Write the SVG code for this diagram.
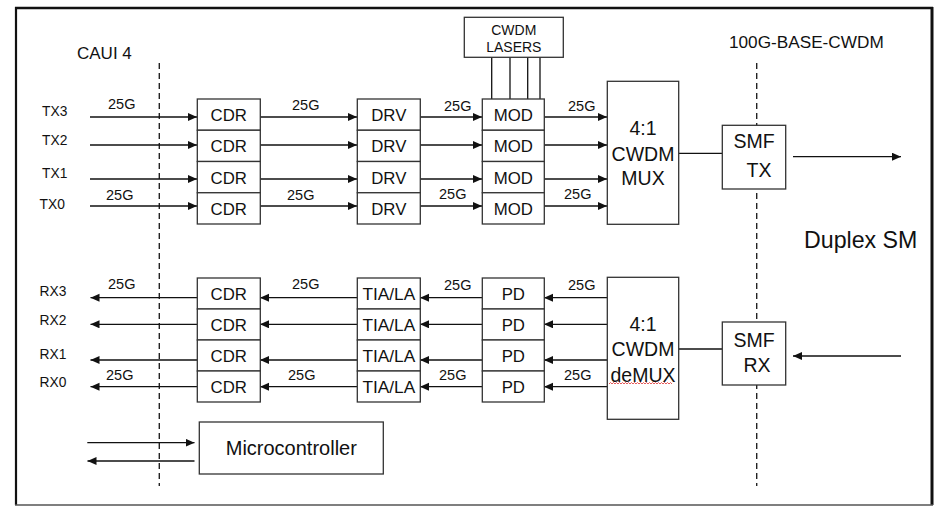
<svg xmlns="http://www.w3.org/2000/svg" width="936" height="506" viewBox="0 0 936 506">
<style>
text{font-family:"Liberation Sans",Arial,sans-serif;fill:#111}
.box{fill:#fff;stroke:#333;stroke-width:1.3}
.ln{stroke:#111;stroke-width:1.3;fill:none}
.arr{stroke:#111;stroke-width:1.3;fill:none;marker-end:url(#ah)}
.dash{stroke:#222;stroke-width:1.4;stroke-dasharray:6,4;fill:none}
.lbl{font-size:13.8px}
.g{font-size:14.5px}
.bx{font-size:16.8px;text-anchor:middle}
.big{font-size:19.5px;text-anchor:middle}
</style>
<defs>
<marker id="ah" markerUnits="userSpaceOnUse" markerWidth="10" markerHeight="9" refX="9" refY="4" orient="auto">
<path d="M0,0 L9,4 L0,8 z" fill="#111"/>
</marker>
</defs>
<rect x="0" y="0" width="936" height="506" fill="#fff"/>
<g id="frame">
<line x1="15" y1="8" x2="933" y2="8" stroke="#111" stroke-width="2.5"/>
<line x1="16" y1="7" x2="16" y2="505" stroke="#111" stroke-width="2.2"/>
<line x1="932" y1="7" x2="932" y2="505" stroke="#111" stroke-width="3"/>
<line x1="15" y1="505" x2="933" y2="505" stroke="#555" stroke-width="1.5"/>
</g>
<g id="boundaries">
<line class="dash" x1="159.3" y1="63" x2="159.3" y2="486"/>
<line class="dash" x1="756.7" y1="63" x2="756.7" y2="486"/>
<text x="77" y="59" style="font-size:17px">CAUI 4</text>
<text x="729" y="47.7" style="font-size:17.2px">100G-BASE-CWDM</text>
<text x="804" y="248" style="font-size:23.2px">Duplex SM</text>
</g>
<g id="connectors">
<line class="arr" x1="90" y1="117" x2="197" y2="117"/>
<line class="arr" x1="90" y1="145" x2="197" y2="145"/>
<line class="arr" x1="90" y1="179" x2="197" y2="179"/>
<line class="arr" x1="90" y1="206" x2="197" y2="206"/>
<line class="arr" x1="260" y1="117" x2="357" y2="117"/>
<line class="arr" x1="260" y1="145" x2="357" y2="145"/>
<line class="arr" x1="260" y1="179" x2="357" y2="179"/>
<line class="arr" x1="260" y1="206" x2="357" y2="206"/>
<line class="arr" x1="420" y1="117" x2="482" y2="117"/>
<line class="arr" x1="420" y1="145" x2="482" y2="145"/>
<line class="arr" x1="420" y1="179" x2="482" y2="179"/>
<line class="arr" x1="420" y1="206" x2="482" y2="206"/>
<line class="arr" x1="544" y1="117" x2="607" y2="117"/>
<line class="arr" x1="544" y1="145" x2="607" y2="145"/>
<line class="arr" x1="544" y1="179" x2="607" y2="179"/>
<line class="arr" x1="544" y1="206" x2="607" y2="206"/>
<line class="ln" x1="491.7" y1="57" x2="491.7" y2="99"/>
<line class="ln" x1="510" y1="57" x2="510" y2="99"/>
<line class="ln" x1="527.7" y1="57" x2="527.7" y2="99"/>
<line class="ln" x1="540" y1="57" x2="540" y2="99"/>
<line class="ln" x1="679" y1="153.3" x2="722" y2="153.3"/>
<line class="arr" x1="793" y1="156.7" x2="901" y2="156.7"/>
<line class="arr" x1="901" y1="356" x2="793" y2="356"/>
<line class="ln" x1="679" y1="349" x2="722" y2="349"/>
<line class="arr" x1="607" y1="297.7" x2="544" y2="297.7"/>
<line class="arr" x1="607" y1="324.3" x2="544" y2="324.3"/>
<line class="arr" x1="607" y1="360" x2="544" y2="360"/>
<line class="arr" x1="607" y1="386.7" x2="544" y2="386.7"/>
<line class="arr" x1="482" y1="297.7" x2="420" y2="297.7"/>
<line class="arr" x1="482" y1="324.3" x2="420" y2="324.3"/>
<line class="arr" x1="482" y1="360" x2="420" y2="360"/>
<line class="arr" x1="482" y1="386.7" x2="420" y2="386.7"/>
<line class="arr" x1="357" y1="297.7" x2="260" y2="297.7"/>
<line class="arr" x1="357" y1="324.3" x2="260" y2="324.3"/>
<line class="arr" x1="357" y1="360" x2="260" y2="360"/>
<line class="arr" x1="357" y1="386.7" x2="260" y2="386.7"/>
<line class="arr" x1="197" y1="297.7" x2="90.5" y2="297.7"/>
<line class="arr" x1="197" y1="324.3" x2="90.5" y2="324.3"/>
<line class="arr" x1="197" y1="360" x2="90.5" y2="360"/>
<line class="arr" x1="197" y1="386.7" x2="90.5" y2="386.7"/>
<line class="arr" x1="87.3" y1="442.7" x2="194.5" y2="442.7"/>
<line class="arr" x1="194.5" y1="461" x2="87.5" y2="461"/>
<text class="g" x="108" y="108.5">25G</text>
<text class="g" x="106" y="200">25G</text>
<text class="g" x="292" y="109.5">25G</text>
<text class="g" x="287" y="200">25G</text>
<text class="g" x="444" y="110.5">25G</text>
<text class="g" x="439" y="199">25G</text>
<text class="g" x="568" y="110.5">25G</text>
<text class="g" x="564" y="199">25G</text>
<text class="g" x="108" y="288.5">25G</text>
<text class="g" x="106" y="380">25G</text>
<text class="g" x="292" y="289">25G</text>
<text class="g" x="288" y="380">25G</text>
<text class="g" x="444" y="290">25G</text>
<text class="g" x="439" y="380">25G</text>
<text class="g" x="568" y="290">25G</text>
<text class="g" x="564" y="380">25G</text>
</g>
<g id="port-labels">
<text class="lbl" x="42" y="116">TX3</text>
<text class="lbl" x="42" y="145">TX2</text>
<text class="lbl" x="42" y="178">TX1</text>
<text class="lbl" x="39.5" y="209">TX0</text>
<text class="lbl" x="39.5" y="296">RX3</text>
<text class="lbl" x="39.5" y="325">RX2</text>
<text class="lbl" x="39.5" y="359">RX1</text>
<text class="lbl" x="39.5" y="386.7">RX0</text>
</g>
<g id="tx-cdr">
<rect class="box" x="197.3" y="99" width="63" height="31.25"/>
<rect class="box" x="197.3" y="130.25" width="63" height="31.25"/>
<rect class="box" x="197.3" y="161.5" width="63" height="31.25"/>
<rect class="box" x="197.3" y="192.75" width="63" height="31.25"/>
<text class="bx" x="228.8" y="121">CDR</text>
<text class="bx" x="228.8" y="152.3">CDR</text>
<text class="bx" x="228.8" y="183.5">CDR</text>
<text class="bx" x="228.8" y="214.8">CDR</text>
</g>
<g id="tx-drv">
<rect class="box" x="357.3" y="99" width="63" height="31.25"/>
<rect class="box" x="357.3" y="130.25" width="63" height="31.25"/>
<rect class="box" x="357.3" y="161.5" width="63" height="31.25"/>
<rect class="box" x="357.3" y="192.75" width="63" height="31.25"/>
<text class="bx" x="388.8" y="121">DRV</text>
<text class="bx" x="388.8" y="152.3">DRV</text>
<text class="bx" x="388.8" y="183.5">DRV</text>
<text class="bx" x="388.8" y="214.8">DRV</text>
</g>
<g id="tx-mod">
<rect class="box" x="482.3" y="99" width="62" height="31.25"/>
<rect class="box" x="482.3" y="130.25" width="62" height="31.25"/>
<rect class="box" x="482.3" y="161.5" width="62" height="31.25"/>
<rect class="box" x="482.3" y="192.75" width="62" height="31.25"/>
<text class="bx" x="513.3" y="121">MOD</text>
<text class="bx" x="513.3" y="152.3">MOD</text>
<text class="bx" x="513.3" y="183.5">MOD</text>
<text class="bx" x="513.3" y="214.8">MOD</text>
</g>
<g id="cwdm-lasers">
<rect class="box" x="464.3" y="17.3" width="99" height="40"/>
<text x="513.8" y="35" style="font-size:14px;text-anchor:middle">CWDM</text>
<text x="513.8" y="52" style="font-size:14px;text-anchor:middle">LASERS</text>
</g>
<g id="mux">
<rect class="box" x="607.3" y="81.3" width="71.4" height="143"/>
<text class="big" x="643" y="135">4:1</text>
<text class="big" x="643" y="160.7">CWDM</text>
<text class="big" x="643" y="185">MUX</text>
</g>
<g id="smf-tx">
<rect class="box" x="722.3" y="125.3" width="63.4" height="63.7"/>
<text class="big" x="754" y="148">SMF</text>
<text class="big" x="759" y="176.5">TX</text>
</g>
<g id="rx-cdr">
<rect class="box" x="197.3" y="278" width="63" height="31"/>
<rect class="box" x="197.3" y="309" width="63" height="31"/>
<rect class="box" x="197.3" y="340" width="63" height="31"/>
<rect class="box" x="197.3" y="371" width="63" height="31"/>
<text class="bx" x="228.8" y="300">CDR</text>
<text class="bx" x="228.8" y="331">CDR</text>
<text class="bx" x="228.8" y="362">CDR</text>
<text class="bx" x="228.8" y="393">CDR</text>
</g>
<g id="rx-tia">
<rect class="box" x="357.3" y="278" width="63" height="31"/>
<rect class="box" x="357.3" y="309" width="63" height="31"/>
<rect class="box" x="357.3" y="340" width="63" height="31"/>
<rect class="box" x="357.3" y="371" width="63" height="31"/>
<text class="bx" x="388.8" y="300" style="font-size:17.3px">TIA/LA</text>
<text class="bx" x="388.8" y="331" style="font-size:17.3px">TIA/LA</text>
<text class="bx" x="388.8" y="362" style="font-size:17.3px">TIA/LA</text>
<text class="bx" x="388.8" y="393" style="font-size:17.3px">TIA/LA</text>
</g>
<g id="rx-pd">
<rect class="box" x="482.3" y="278" width="62" height="31"/>
<rect class="box" x="482.3" y="309" width="62" height="31"/>
<rect class="box" x="482.3" y="340" width="62" height="31"/>
<rect class="box" x="482.3" y="371" width="62" height="31"/>
<text class="bx" x="513.3" y="300">PD</text>
<text class="bx" x="513.3" y="331">PD</text>
<text class="bx" x="513.3" y="362">PD</text>
<text class="bx" x="513.3" y="393">PD</text>
</g>
<g id="demux">
<rect class="box" x="607.3" y="277.3" width="71.4" height="142"/>
<text class="big" x="643" y="330.7">4:1</text>
<text class="big" x="643" y="356">CWDM</text>
<text class="big" x="643" y="381.7">deMUX</text>
<path d="M609,384 l1.5,-1.5 l1.5,1.5 l1.5,-1.5 l1.5,1.5 l1.5,-1.5 l1.5,1.5 l1.5,-1.5 l1.5,1.5 l1.5,-1.5 l1.5,1.5 l1.5,-1.5 l1.5,1.5 l1.5,-1.5 l1.5,1.5 l1.5,-1.5 l1.5,1.5 l1.5,-1.5 l1.5,1.5 l1.5,-1.5 l1.5,1.5 l1.5,-1.5 l1.5,1.5 l1.5,-1.5 l1.5,1.5 l1.5,-1.5 l1.5,1.5 l1.5,-1.5 l1.5,1.5 l1.5,-1.5 l1.5,1.5 l1.5,-1.5 l1.5,1.5 l1.5,-1.5 l1.5,1.5 l1.5,-1.5 l1.5,1.5 l1.5,-1.5 l1.5,1.5 l1.5,-1.5 l1.5,1.5 l1.5,-1.5 l1.5,1.5" fill="none" stroke="#e03030" stroke-width="0.8"/>
</g>
<g id="smf-rx">
<rect class="box" x="722.3" y="322" width="63.4" height="63"/>
<text class="big" x="754" y="347">SMF</text>
<text class="big" x="757" y="372">RX</text>
</g>
<g id="microcontroller">
<rect class="box" x="199.3" y="422" width="184" height="52"/>
<text x="291.3" y="455" style="font-size:20px;text-anchor:middle">Microcontroller</text>
</g>
</svg>
